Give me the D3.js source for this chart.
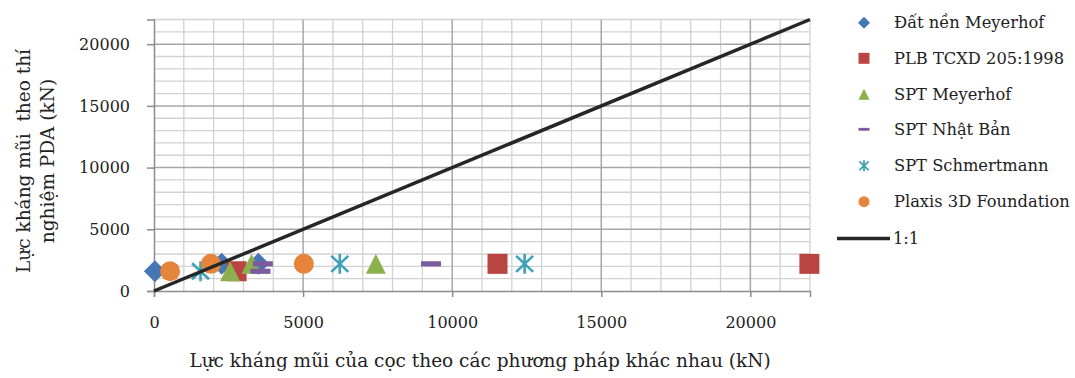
<!DOCTYPE html>
<html>
<head>
<meta charset="utf-8">
<script src="https://cdn.jsdelivr.net/npm/d3@7"></script>
<style>
  html, body { margin: 0; padding: 0; background: #fff; }
  svg { display: block; }
  text { font-family: "DejaVu Serif", serif; fill: #222; }
</style>
</head>
<body>
<svg id="chart" width="1075" height="378"></svg>
<script>
// Pile toe resistance: each method's prediction (x) against the PDA test value (y), kN
const seriesNames = ["Đất nền Meyerhof", "PLB TCXD 205:1998", "SPT Meyerhof", "SPT Nhật Bản", "SPT Schmertmann", "Plaxis 3D Foundation"];
const pdaValues = [1600, 2200, 2200];
const datNenMeyerhof = [30, 2270, 3500];
const plbTcxd = [2770, 11520, 21980];
const sptMeyerhof = [2550, 3270, 7440];
const sptNhatBan = [3570, 3650, 9290];
const sptSchmertmann = [1560, 6230, 12430];
const plaxis3D = [540, 1910, 5025];
const referenceLine = [0, 22000];
const lineName = "1:1";
const xTicks = [0, 5000, 10000, 15000, 20000];
const yTicks = [0, 5000, 10000, 15000, 20000];

const predicted = [datNenMeyerhof, plbTcxd, sptMeyerhof, sptNhatBan, sptSchmertmann, plaxis3D];
const colors = ["#4677B5", "#B94543", "#8DB04E", "#7A5C9E", "#3FA0B8", "#E5843B"];
const shapes = ["diamond", "square", "triangle", "dash", "star", "circle"];

const svg = d3.select("#chart");
const plotLeft = 154, plotTop = 19.5, plotRight = 810, plotBottom = 291;

const x = d3.scaleLinear().domain([0, 22000]).range([plotLeft, plotRight]);
const y = d3.scaleLinear().domain([0, 22000]).range([plotBottom, plotTop]);

// gridlines: minor every 1000, major every 5000
const minor = d3.range(1000, 22001, 1000).filter(v => v % 5000 !== 0);
const major = d3.range(5000, 22001, 5000);
const grid = svg.append("g");
grid.selectAll(".vmin").data(minor).join("line")
  .attr("x1", d => x(d)).attr("x2", d => x(d)).attr("y1", y(0)).attr("y2", y(22000))
  .attr("stroke", "#d2d2d2").attr("stroke-width", 1.3);
grid.selectAll(".hmin").data(minor).join("line")
  .attr("y1", d => y(d)).attr("y2", d => y(d)).attr("x1", x(0)).attr("x2", x(22000))
  .attr("stroke", "#d2d2d2").attr("stroke-width", 1.3);
grid.selectAll(".vmaj").data(major).join("line")
  .attr("x1", d => x(d)).attr("x2", d => x(d)).attr("y1", y(0)).attr("y2", y(22000))
  .attr("stroke", "#a6a6a6").attr("stroke-width", 1.5);
grid.selectAll(".hmaj").data(major).join("line")
  .attr("y1", d => y(d)).attr("y2", d => y(d)).attr("x1", x(0)).attr("x2", x(22000))
  .attr("stroke", "#a6a6a6").attr("stroke-width", 1.5);

// axes
const xAxis = svg.append("g").attr("transform", `translate(0,${plotBottom})`)
  .call(d3.axisBottom(x).tickValues(xTicks).tickFormat(d3.format("d")).tickSize(6).tickPadding(19.5));
const yAxis = svg.append("g").attr("transform", `translate(${plotLeft},0)`)
  .call(d3.axisLeft(y).tickValues(yTicks).tickFormat(d3.format("d")).tickSize(7).tickPadding(17));
[xAxis, yAxis].forEach(a => {
  a.select(".domain").attr("stroke", "#8c8c8c").attr("stroke-width", 1.5);
  a.selectAll(".tick line").attr("stroke", "#8c8c8c").attr("stroke-width", 1.5);
  a.selectAll(".tick text").style("font-family", "DejaVu Serif").style("font-size", "16px").attr("fill", "#222");
});

// marker drawing; s = full marker size in px
function drawMarker(g, shape, color, s) {
  if (shape === "diamond") {
    g.append("path").attr("d", `M0,${-s / 2}L${s / 2},0L0,${s / 2}L${-s / 2},0Z`).attr("fill", color);
  } else if (shape === "square") {
    g.append("rect").attr("x", -s / 2).attr("y", -s / 2).attr("width", s).attr("height", s).attr("fill", color);
  } else if (shape === "triangle") {
    g.append("path").attr("d", `M0,${-s / 2}L${s / 2},${s / 2}L${-s / 2},${s / 2}Z`).attr("fill", color);
  } else if (shape === "dash") {
    g.append("rect").attr("x", -s / 2).attr("y", -s * 0.13).attr("width", s).attr("height", s * 0.26).attr("fill", color);
  } else if (shape === "star") {
    const r = s / 2;
    const p = `M0,${-r}L0,${r}M${-r * 0.85},${-r * 0.8}L${r * 0.85},${r * 0.8}M${-r * 0.85},${r * 0.8}L${r * 0.85},${-r * 0.8}`;
    g.append("path").attr("d", p).attr("stroke", color).attr("stroke-width", Math.max(1.8, s * 0.13)).attr("fill", "none");
  } else if (shape === "circle") {
    g.append("circle").attr("r", s / 2).attr("fill", color);
  }
}

// scatter series
predicted.forEach((xs, i) => {
  const sg = svg.append("g");
  xs.forEach((v, j) => {
    const m = sg.append("g").attr("transform", `translate(${x(v)},${y(pdaValues[j])})`);
    drawMarker(m, shapes[i], colors[i], shapes[i] === "diamond" ? 22 : 20);
  });
});

// 1:1 line
svg.append("line")
  .attr("x1", x(referenceLine[0])).attr("y1", y(referenceLine[0]))
  .attr("x2", x(referenceLine[1])).attr("y2", y(referenceLine[1]))
  .attr("stroke", "#262626").attr("stroke-width", 3.5);

// axis titles
svg.append("text").attr("x", 480).attr("y", 367).attr("text-anchor", "middle")
  .style("font-size", "18.5px").text("Lực kháng mũi của cọc theo các phương pháp khác nhau (kN)");
const yt = svg.append("text").attr("transform", "translate(0,161) rotate(-90)").attr("text-anchor", "middle")
  .style("font-size", "18.5px").style("white-space", "pre");
yt.append("tspan").attr("x", 0).attr("y", 30).text("Lực kháng mũi  theo thí");
yt.append("tspan").attr("x", 0).attr("y", 54).text("nghiệm PDA (kN)");

// legend
const legendY = [22.7, 58.3, 94.3, 129.3, 165.7, 201.7];
const lg = svg.append("g");
seriesNames.forEach((name, i) => {
  const m = lg.append("g").attr("transform", `translate(864,${legendY[i]})`);
  drawMarker(m, shapes[i], colors[i], shapes[i] === "diamond" ? 12 : 11);
  lg.append("text").attr("x", 894).attr("y", legendY[i]).attr("dy", "0.35em")
    .style("font-size", "16.3px").text(name);
});
lg.append("line").attr("x1", 837).attr("x2", 890).attr("y1", 238.5).attr("y2", 238.5)
  .attr("stroke", "#262626").attr("stroke-width", 3.5);
lg.append("text").attr("x", 893).attr("y", 238.5).attr("dy", "0.35em")
  .style("font-size", "16.3px").text(lineName);
</script>
</body>
</html>
